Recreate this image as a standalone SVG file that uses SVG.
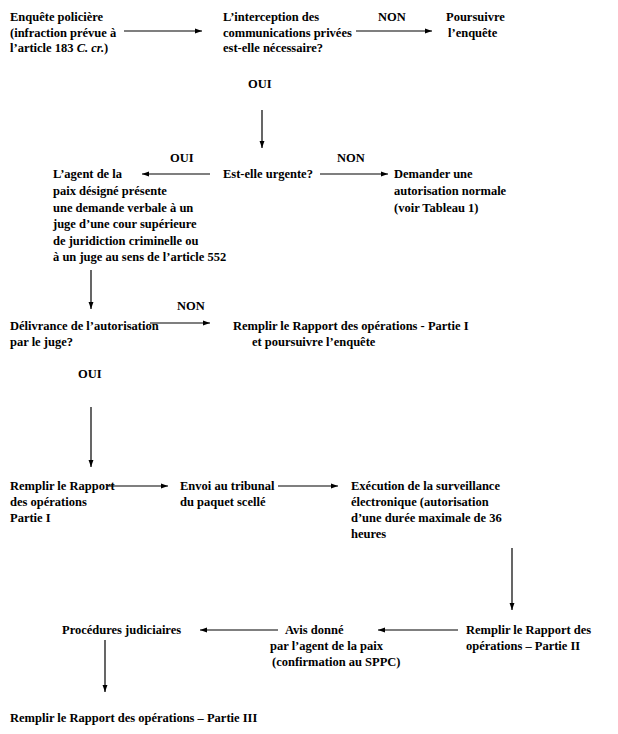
<svg xmlns="http://www.w3.org/2000/svg" width="618" height="734" viewBox="0 0 618 734">
<style>
text{font-family:'Liberation Serif','DejaVu Serif',serif;font-weight:bold;font-size:12.5px;fill:#000}
.c line{stroke:#000;stroke-width:1.2;marker-end:url(#a)}
</style>
<defs><marker id="a" viewBox="0 0 10 10" refX="10" refY="5" markerWidth="7" markerHeight="7" markerUnits="userSpaceOnUse" orient="auto"><path d="M0,1.5L10,5L0,8.5z" fill="#000"/></marker></defs>
<rect width="618" height="734" fill="#fff"/>
<g id="n1"><text x="10" y="21">Enquête policière</text><text x="10" y="37">(infraction prévue à</text><text x="10" y="52">l’article 183 <tspan font-style="italic">C. cr.</tspan>)</text></g>
<g id="n2"><text x="223" y="21">L’interception des</text><text x="223" y="37">communications privées</text><text x="223" y="52">est-elle nécessaire?</text></g>
<g id="n3"><text x="446" y="21">Poursuivre</text><text x="448" y="37">l’enquête</text></g>
<g id="n4"><text x="223" y="178">Est-elle urgente?</text></g>
<g id="n5"><text x="394" y="178">Demander une</text><text x="394" y="195">autorisation normale</text><text x="394" y="212">(voir Tableau 1)</text></g>
<g id="n6"><text x="53" y="178">L’agent de la</text><text x="53" y="195">paix désigné présente</text><text x="53" y="212">une demande verbale à un</text><text x="53" y="228">juge d’une cour supérieure</text><text x="53" y="245">de juridiction criminelle ou</text><text x="53" y="261">à un juge au sens de l’article 552</text></g>
<g id="n7"><text x="10" y="330">Délivrance de l’autorisation</text><text x="10" y="346">par le juge?</text></g>
<g id="n8"><text x="233" y="330">Remplir le Rapport des opérations - Partie I</text><text x="252" y="346">et poursuivre l’enquête</text></g>
<g id="n9"><text x="10" y="490">Remplir le Rapport</text><text x="10" y="506">des opérations</text><text x="10" y="522">Partie I</text></g>
<g id="n10"><text x="180" y="490">Envoi au tribunal</text><text x="180" y="506">du paquet scellé</text></g>
<g id="n11"><text x="351" y="490">Exécution de la surveillance</text><text x="351" y="506">électronique (autorisation</text><text x="351" y="522">d’une durée maximale de 36</text><text x="351" y="538">heures</text></g>
<g id="n12"><text x="466" y="634">Remplir le Rapport des</text><text x="466" y="650">opérations – Partie II</text></g>
<g id="n13"><text x="285" y="634">Avis donné</text><text x="270" y="650">par l’agent de la paix</text><text x="272" y="666">(confirmation au SPPC)</text></g>
<g id="n14"><text x="62" y="634">Procédures judiciaires</text></g>
<g id="n15"><text x="10" y="722">Remplir le Rapport des opérations – Partie III</text></g>
<g id="labels"><text x="378" y="21">NON</text><text x="248" y="88">OUI</text><text x="170" y="162">OUI</text><text x="337" y="162">NON</text><text x="177" y="310">NON</text><text x="78" y="378">OUI</text></g>
<g class="c">
<line x1="124" y1="31" x2="202" y2="31"/>
<line x1="356" y1="31" x2="432" y2="31"/>
<line x1="262" y1="110" x2="262" y2="148"/>
<line x1="210" y1="174" x2="142" y2="174"/>
<line x1="320" y1="174" x2="388" y2="174"/>
<line x1="91" y1="270" x2="91" y2="309"/>
<line x1="150" y1="323" x2="210" y2="323"/>
<line x1="91" y1="407" x2="91" y2="467"/>
<line x1="108" y1="486" x2="168" y2="486"/>
<line x1="278" y1="486" x2="338" y2="486"/>
<line x1="512" y1="548" x2="512" y2="610"/>
<line x1="458" y1="630" x2="378" y2="630"/>
<line x1="278" y1="630" x2="200" y2="630"/>
<line x1="105" y1="640" x2="105" y2="692"/>
</g>
</svg>
